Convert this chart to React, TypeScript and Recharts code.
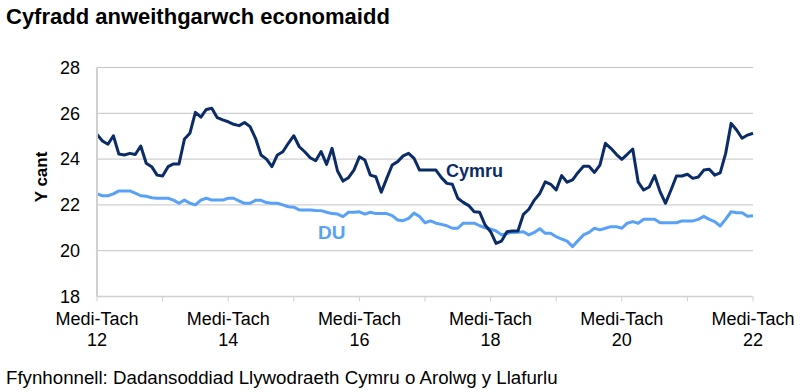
import React from "react";
import { LineChart, Line, XAxis, YAxis, CartesianGrid } from "recharts";

// ─── Data ────────────────────────────────────────────────────────────────────

// Rolling quarters Medi-Tach 2012 .. Medi-Tach 2022 (one point per month)
const cymru = [
  25.08, 24.79, 24.65, 25.02, 24.22, 24.18, 24.25, 24.2, 24.57, 23.82,
  23.67, 23.3, 23.26, 23.67, 23.79, 23.79, 24.88, 25.13, 26.04, 25.83,
  26.17, 26.22, 25.81, 25.71, 25.63, 25.52, 25.46, 25.6, 25.42, 24.91,
  24.18, 24.0, 23.67, 24.18, 24.32, 24.69, 25.02, 24.54, 24.32, 24.06,
  23.93, 24.33, 23.77, 24.47, 23.48, 23.04, 23.19, 23.52, 24.1, 23.96,
  23.3, 23.23, 22.55, 23.16, 23.74, 23.89, 24.14, 24.25, 24.03, 23.52,
  23.52, 23.52, 23.52, 23.19, 22.94, 22.9, 22.29, 22.11, 21.97, 21.7,
  21.68, 21.12, 20.83, 20.32, 20.42, 20.83, 20.86, 20.86, 21.59, 21.81,
  22.21, 22.5, 23.01, 22.9, 22.65, 23.28, 22.99, 23.09, 23.42, 23.69,
  23.69, 23.42, 23.74, 24.69, 24.47, 24.21, 23.99, 24.21, 24.44, 22.99,
  22.65, 22.78, 23.28, 22.58, 22.07, 22.65, 23.26, 23.26, 23.34, 23.16,
  23.22, 23.52, 23.56, 23.3, 23.4, 24.25, 25.56, 25.27, 24.91, 25.05,
  25.13,
];

const du = [
  22.48, 22.4, 22.4, 22.48, 22.61, 22.61, 22.61, 22.51, 22.4, 22.38,
  22.31, 22.29, 22.29, 22.29, 22.21, 22.07, 22.21, 22.07, 22.0, 22.21,
  22.29, 22.21, 22.21, 22.21, 22.29, 22.29, 22.17, 22.07, 22.07, 22.2,
  22.2, 22.1, 22.07, 22.07, 22.0, 21.92, 21.9, 21.78, 21.78, 21.78,
  21.76, 21.75, 21.68, 21.62, 21.6, 21.49, 21.68, 21.68, 21.7, 21.6,
  21.68, 21.62, 21.62, 21.62, 21.53, 21.34, 21.31, 21.41, 21.64, 21.49,
  21.22, 21.3, 21.2, 21.15, 21.09, 20.98, 20.98, 21.2, 21.2, 21.2,
  21.09, 21.0, 20.95, 20.86, 20.69, 20.75, 20.8, 20.81, 20.83, 20.69,
  20.8, 20.96, 20.76, 20.76, 20.61, 20.51, 20.42, 20.18, 20.44, 20.69,
  20.8, 20.98, 20.91, 20.98, 21.05, 21.05, 20.98, 21.2, 21.27, 21.2,
  21.37, 21.37, 21.37, 21.22, 21.22, 21.22, 21.22, 21.3, 21.3, 21.3,
  21.37, 21.5, 21.37, 21.27, 21.08, 21.38, 21.7, 21.66, 21.66, 21.5,
  21.53,
];

const xTicks = [0, 12, 24, 36, 48, 60, 72, 84, 96, 108, 120];
const labelledTicks = [0, 24, 48, 72, 96, 120];
const tickYears = ["12", "14", "16", "18", "20", "22"];
const tickPeriod = "Medi-Tach";
const yTicks = [18, 20, 22, 24, 26, 28];

const CYMRU_COLOR = "#0b2c66";
const DU_COLOR = "#58a1f6";
const FONT = "'Liberation Sans', Arial, sans-serif";

const chartData = cymru.map((v, i) => ({ i, cymru: v, du: du[i] }));

// ─── Ticks ───────────────────────────────────────────────────────────────────

function XTick({ x, y, payload }: { x?: number; y?: number; payload?: { value: number } }) {
  const idx = labelledTicks.indexOf(payload?.value ?? -1);
  if (idx < 0) return null;
  return (
    <g>
      <text x={x} y={(y ?? 0) + 21} textAnchor="middle" fontSize={18} fill="#000" fontFamily={FONT}>
        {tickPeriod}
      </text>
      <text x={x} y={(y ?? 0) + 42} textAnchor="middle" fontSize={18} fill="#000" fontFamily={FONT}>
        {tickYears[idx]}
      </text>
    </g>
  );
}

// ─── Chart ───────────────────────────────────────────────────────────────────

export default function App() {
  return (
    <div style={{ position: "absolute", left: 0, top: 0, width: 804, height: 392, background: "#fff", fontFamily: FONT }}>
      <div style={{ position: "absolute", left: 6, top: 4, fontSize: 22, fontWeight: "bold", color: "#000", whiteSpace: "nowrap" }}>
        Cyfradd anweithgarwch economaidd
      </div>

      <LineChart
        width={804}
        height={392}
        data={chartData}
        margin={{ top: 67.5, right: 51, left: 0, bottom: 35.5 }}
      >
        <CartesianGrid vertical={false} stroke="#c4c4c4" strokeWidth={1} />
        <XAxis
          dataKey="i"
          type="number"
          domain={[0, 120]}
          ticks={xTicks}
          interval={0}
          height={60}
          tickSize={5}
          tickLine={{ stroke: "#d0d0d0" }}
          axisLine={{ stroke: "#d0d0d0", strokeWidth: 1.5 }}
          tick={<XTick />}
        />
        <YAxis
          type="number"
          domain={[18, 28]}
          ticks={yTicks}
          width={97}
          tickSize={0}
          tickMargin={17}
          tickLine={false}
          axisLine={{ stroke: "#d0d0d0", strokeWidth: 2 }}
          tick={{ fontSize: 18, fill: "#000", fontFamily: FONT }}
        />
        <Line
          dataKey="du"
          stroke={DU_COLOR}
          strokeWidth={3}
          dot={false}
          isAnimationActive={false}
          strokeLinejoin="round"
        />
        <Line
          dataKey="cymru"
          stroke={CYMRU_COLOR}
          strokeWidth={3}
          dot={false}
          isAnimationActive={false}
          strokeLinejoin="round"
        />
      </LineChart>

      <div
        style={{
          position: "absolute",
          left: 42,
          top: 177,
          transform: "translate(-50%, -50%) rotate(-90deg)",
          fontSize: 17,
          fontWeight: "bold",
          color: "#000",
          whiteSpace: "nowrap",
        }}
      >
        Y cant
      </div>

      <div style={{ position: "absolute", left: 446, top: 161, fontSize: 18, fontWeight: "bold", color: CYMRU_COLOR }}>
        Cymru
      </div>
      <div style={{ position: "absolute", left: 318, top: 222, fontSize: 19, fontWeight: "bold", color: DU_COLOR }}>
        DU
      </div>

      <div style={{ position: "absolute", left: 6, top: 367, fontSize: 18.7, color: "#000", whiteSpace: "nowrap" }}>
        Ffynhonnell: Dadansoddiad Llywodraeth Cymru o Arolwg y Llafurlu
      </div>
    </div>
  );
}
